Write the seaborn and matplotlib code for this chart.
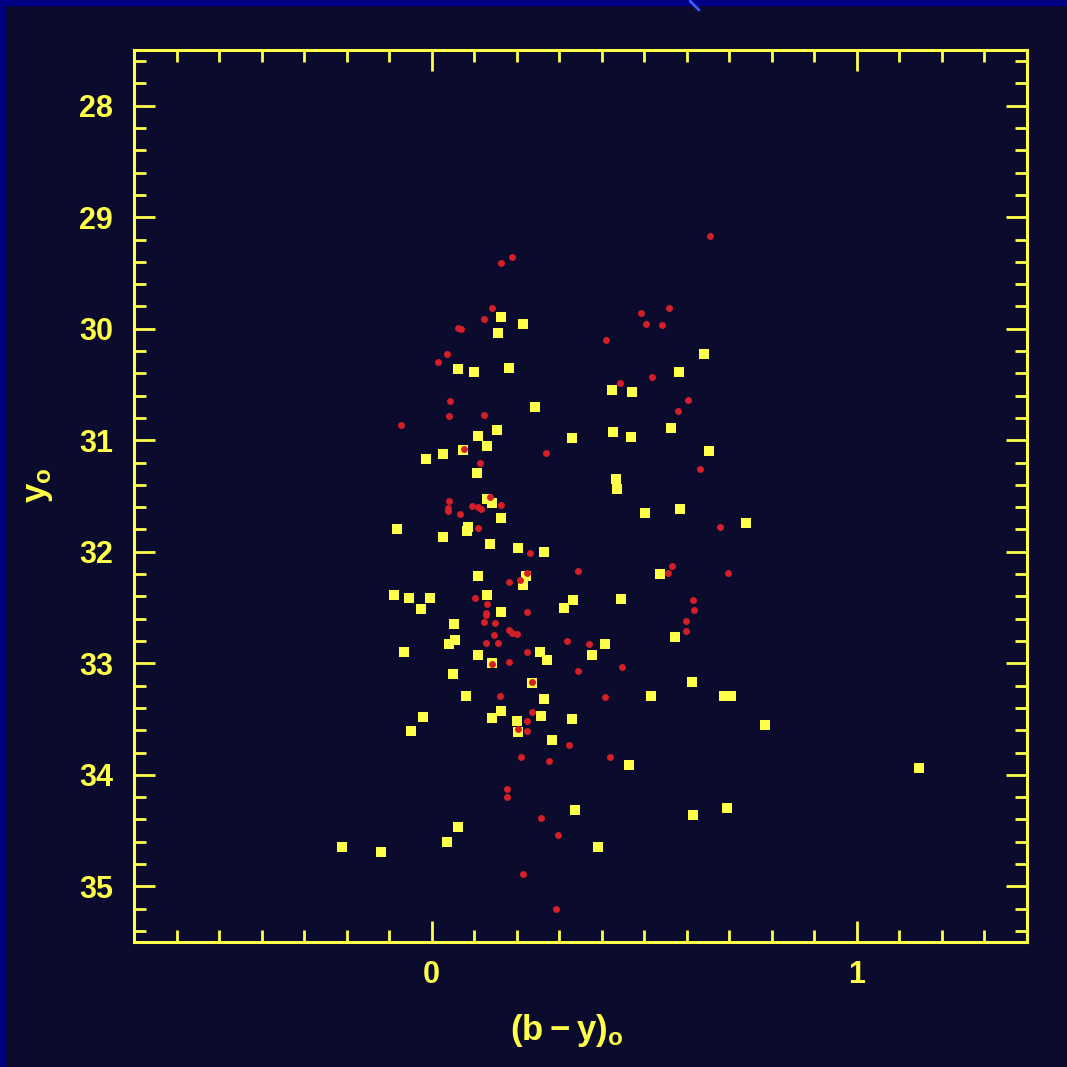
import numpy as np
import pandas as pd
import seaborn as sns
import matplotlib.pyplot as plt
from matplotlib.patches import Rectangle
from matplotlib.ticker import MultipleLocator

# yellow squares: (b-y)o colour and yo magnitude
yellow_by = [-0.211, -0.120, 0.035, 0.063, 0.336, 0.465, 0.390, 0.615, 0.695, 1.146,
             0.784, 0.162, 0.214, 0.155, 0.063, 0.099, 0.183, 0.641, 0.582, 0.425,
             0.472, 0.242, 0.110, 0.153, 0.129, 0.073, 0.026, -0.014, 0.106, 0.331,
             0.129, 0.143, 0.162, -0.082, 0.085, 0.082, 0.026, 0.138, 0.204, 0.265,
             0.108, 0.223, 0.427, 0.469, 0.563, 0.653, 0.434, 0.437, 0.502, 0.585,
             0.739, 0.538, 0.214, 0.333, 0.312, 0.446, 0.408, 0.376, 0.254, 0.272,
             0.573, 0.613, 0.516, 0.688, 0.704, 0.265, 0.258, 0.331, 0.284, -0.089,
             -0.054, -0.005, -0.026, 0.052, 0.056, 0.040, -0.066, 0.108, 0.049, 0.080,
             -0.021, -0.049, 0.162, 0.143, 0.200, 0.202, 0.131, 0.162, 0.141, 0.237]
yellow_y = [34.65, 34.69, 34.60, 34.47, 34.32, 33.91, 34.65, 34.36, 34.30, 33.94,
            33.55, 29.89, 29.96, 30.04, 30.36, 30.39, 30.35, 30.23, 30.39, 30.55,
            30.57, 30.70, 30.96, 30.91, 31.05, 31.09, 31.12, 31.17, 31.29, 30.98,
            31.53, 31.56, 31.70, 31.80, 31.78, 31.81, 31.87, 31.93, 31.97, 32.00,
            32.22, 32.22, 30.93, 30.97, 30.89, 31.10, 31.35, 31.44, 31.65, 31.62,
            31.74, 32.20, 32.30, 32.43, 32.50, 32.42, 32.83, 32.93, 32.90, 32.97,
            32.76, 33.17, 33.29, 33.29, 33.29, 33.32, 33.47, 33.50, 33.69, 32.39,
            32.41, 32.41, 32.51, 32.65, 32.79, 32.83, 32.90, 32.93, 33.10, 33.29,
            33.48, 33.61, 33.43, 33.49, 33.52, 33.62, 32.39, 32.54, 33.00, 33.18]

# red dots
red_by = [0.188, 0.164, 0.141, 0.124, 0.063, 0.070, 0.035, 0.014, 0.042, 0.040,
          0.124, -0.073, 0.077, 0.113, 0.268, 0.138, 0.040, 0.038, 0.038, 0.066,
          0.094, 0.110, 0.117, 0.164, 0.110, 0.232, 0.225, 0.343, 0.655, 0.493,
          0.559, 0.505, 0.542, 0.411, 0.519, 0.444, 0.603, 0.580, 0.631, 0.678,
          0.566, 0.556, 0.697, 0.615, 0.617, 0.599, 0.599, 0.225, 0.319, 0.371,
          0.448, 0.343, 0.225, 0.408, 0.235, 0.225, 0.225, 0.324, 0.420, 0.103,
          0.131, 0.127, 0.127, 0.124, 0.150, 0.183, 0.190, 0.200, 0.146, 0.127,
          0.155, 0.181, 0.160, 0.202, 0.209, 0.183, 0.207, 0.277, 0.176, 0.178,
          0.258, 0.298, 0.214, 0.293, 0.141, 0.237]
red_y = [29.36, 29.41, 29.81, 29.91, 29.99, 30.00, 30.23, 30.30, 30.65, 30.78,
         30.77, 30.86, 31.08, 31.20, 31.11, 31.51, 31.54, 31.61, 31.63, 31.66,
         31.59, 31.60, 31.62, 31.58, 31.79, 32.01, 32.19, 32.17, 29.17, 29.86,
         29.81, 29.96, 29.97, 30.10, 30.43, 30.49, 30.64, 30.74, 31.26, 31.78,
         32.13, 32.19, 32.19, 32.43, 32.52, 32.62, 32.71, 32.54, 32.80, 32.83,
         33.03, 33.07, 32.90, 33.30, 33.44, 33.52, 33.61, 33.73, 33.84, 32.41,
         32.47, 32.55, 32.57, 32.63, 32.64, 32.70, 32.73, 32.74, 32.75, 32.82,
         32.82, 32.99, 33.29, 33.59, 33.84, 32.27, 32.25, 33.88, 34.13, 34.20,
         34.39, 34.54, 34.89, 35.20, 33.01, 33.17]

BG = "#0b0b2e"
YEL = "#ffff4a"
RED = "#d41f26"

sns.set_style("ticks")
plt.rcParams["font.family"] = ["Liberation Sans", "DejaVu Sans"]

yellow_df = pd.DataFrame({"by": yellow_by, "y": yellow_y})
red_df = pd.DataFrame({"by": red_by, "y": red_y})

fig = plt.figure(figsize=(10.67, 10.67), dpi=100, facecolor=BG)
ax = fig.add_axes([0.1256, 0.1171, 0.8369, 0.8360])
ax.set_facecolor(BG)

sns.scatterplot(data=yellow_df, x="by", y="y", marker="s", s=42, color=YEL,
                linewidth=0, ax=ax)
sns.scatterplot(data=red_df, x="by", y="y", marker="o", s=25, color=RED,
                linewidth=0, ax=ax)

ax.set_xlim(-0.7, 1.4)
ax.set_ylim(35.5, 27.5)
ax.xaxis.set_major_locator(MultipleLocator(1))
ax.xaxis.set_minor_locator(MultipleLocator(0.1))
ax.yaxis.set_major_locator(MultipleLocator(1))
ax.yaxis.set_minor_locator(MultipleLocator(0.2))

ax.tick_params(which="both", direction="in", top=True, right=True,
               color=YEL, width=2, labelcolor=YEL, labelsize=22)
ax.tick_params(which="major", length=15)
ax.tick_params(which="minor", length=8.5)
ax.tick_params(axis="x", pad=13)
ax.tick_params(axis="y", pad=15)
for lab in ax.get_xticklabels() + ax.get_yticklabels():
    lab.set_fontweight("bold")
for sp in ax.spines.values():
    sp.set_color(YEL)
    sp.set_linewidth(2.2)

ax.set_xlabel("")
ax.set_ylabel("")
ax.text(0.485, -0.099, r"$\mathregular{(b-y)_o}$", transform=ax.transAxes,
        ha="center", va="center", fontsize=25, fontweight="bold", color=YEL)
ax.text(-0.107, 0.512, r"$\mathregular{y_o}$", transform=ax.transAxes,
        ha="center", va="center", rotation=90, fontsize=25, fontweight="bold",
        color=YEL)

# slide border strips
fig.patches.append(Rectangle((0, 1 - 5 / 1067), 1, 5 / 1067, transform=fig.transFigure,
                             color="#000086", zorder=0))
fig.patches.append(Rectangle((0, 0), 5 / 1067, 1, transform=fig.transFigure,
                             color="#000086", zorder=0))
fig.lines.append(plt.Line2D([690 / 1067, 699 / 1067], [1 - 1 / 1067, 1 - 10 / 1067],
                            transform=fig.transFigure, color="#3a5cff", lw=2))

fig.savefig("out.png", dpi=100, facecolor=BG)
